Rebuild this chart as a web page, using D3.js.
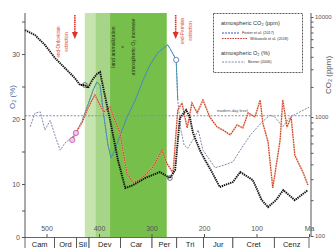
<!DOCTYPE html>
<html lang="en">
  <head>
    <meta charset="UTF-8" />
    <title>CO2 and O2 through the Phanerozoic</title>
    <style>
      body {
        margin: 0;
        background-color: #fff;
      }
      svg {
        font-family: "Liberation Sans", "DejaVu Sans", sans-serif;
      }
      .axis path,
      .axis line {
        stroke: #555;
      }
      .axis text {
        fill: #555;
      }
    </style>
  </head>

  <body>
    <div class="container"></div>

    <script src="https://d3js.org/d3.v7.min.js"></script>
    <script>
      // time axis (Ma) and geological periods
      const maTicks = [500, 400, 300, 200, 100, 0];
      const periodNames = ["Cam", "Ord", "Sil", "Dev", "Car", "Per", "Tri", "Jur", "Cret", "Cenz"];
      const periodBounds = [541, 485, 443, 419, 359, 299, 252, 201, 145, 66, 0];

      // shaded intervals (Ma)
      const greenBands = [[427, 407], [407, 379], [379, 271]];

      // atmospheric CO2, Foster et al. (ppm)
      const fosterMa = [541, 522, 503, 484, 465, 446, 436, 427, 421, 413, 404, 398, 391, 379, 364, 350, 335, 312, 284, 265, 255, 246, 234, 227, 221, 208, 198, 185, 170, 145, 131, 107, 90, 78, 63, 49, 27, 2];
      const fosterCO2 = [7400, 6600, 5250, 3890, 3090, 2450, 2090, 2090, 1950, 2340, 2690, 2820, 1860, 945, 435, 253, 268, 307, 345, 307, 358, 980, 1175, 1000, 735, 527, 435, 345, 258, 284, 345, 295, 200, 175, 200, 243, 200, 243];

      // atmospheric CO2, Witkowski et al. (ppm)
      const witkMa = [451, 444, 432, 421, 408, 398, 391, 379, 370, 360, 347, 335, 316, 297, 280, 271, 259, 250, 242, 232, 223, 213, 202, 189, 175, 164, 150, 137, 126, 116, 103, 93, 88, 78, 69, 55, 50, 42, 34, 27, 11, 2];
      const witkCO2 = [641, 735, 907, 1230, 1660, 1320, 1120, 1260, 945, 735, 339, 279, 313, 380, 527, 410, 339, 1175, 1380, 810, 1380, 1100, 1480, 1000, 825, 777, 707, 857, 810, 1100, 1000, 1480, 890, 617, 253, 641, 1480, 825, 1000, 478, 339, 268];

      // atmospheric O2, Berner (%)
      const bernerMa = [531, 522, 512, 503, 493, 484, 474, 465, 451, 440, 432, 421, 411, 404, 398, 391, 383, 377, 370, 360, 347, 331, 316, 303, 288, 274, 269, 261, 253, 250, 244, 238, 231, 221, 211, 202, 189, 179, 166, 145, 131, 112, 90, 74, 65, 50, 36, 17, 0];
      const bernerO2 = [18.8, 20.9, 21.1, 18.3, 19.8, 17.5, 15.2, 16.3, 17.2, 18.6, 19.8, 22.2, 24.5, 25.7, 25.2, 20.6, 16.0, 14.0, 15.2, 17.5, 20.2, 22.9, 26.0, 28.3, 30.2, 31.1, 31.4, 30.3, 29.1, 22.9, 18.3, 16.0, 15.5, 16.8, 18.3, 15.2, 13.7, 12.5, 12.8, 13.4, 15.2, 17.5, 19.5, 20.6, 20.3, 18.8, 20.3, 21.1, 21.8];

      const modernO2 = 20.5;

      const events = [
        { ma: 446, side: -1, lines: ["end-Ordovician", "extinction"] },
        { ma: 254, side: 1, lines: ["end-Permian", "extinction"] }
      ];

      const w = 334,
        h = 248;

      const svg = d3
        .select(".container")
        .append("svg")
        .attr("width", w)
        .attr("height", h);

      const xScale = d3.scaleLinear().domain([541, 0]).range([25, 309]);
      const yO2 = d3.scaleLinear().domain([0, 10, 20, 30]).range([237, 184, 119, 54]);
      const yCO2 = d3.scaleLog().domain([100, 1000, 10000]).range([236, 117, 17]);

      // green shading
      const bandColors = ["#c6e5ae", "#a7d587", "#77bf4b"];
      svg
        .selectAll(".band")
        .data(greenBands)
        .enter()
        .append("rect")
        .attr("x", d => xScale(d[0]))
        .attr("y", 13)
        .attr("width", d => xScale(d[1]) - xScale(d[0]))
        .attr("height", 224)
        .attr("fill", (d, i) => bandColors[i]);

      // band text
      const bandText = ["land animalization", "+", "atmospheric O₂ increase"];
      svg
        .selectAll(".bandtext")
        .data(bandText)
        .enter()
        .append("text")
        .attr("transform", (d, i) => "translate(" + [113, 122, 133][i] + ",47) rotate(-90)")
        .attr("dy", "0.35em")
        .attr("text-anchor", "middle")
        .attr("font-size", 5.2)
        .attr("fill", "#1d3510")
        .text(d => d);

      // modern-day level
      svg
        .append("line")
        .attr("x1", 25)
        .attr("x2", 311)
        .attr("y1", yO2(modernO2))
        .attr("y2", yO2(modernO2))
        .attr("stroke", "#7d8db3")
        .attr("stroke-width", 1)
        .attr("stroke-dasharray", "2,1.5");

      svg
        .append("text")
        .attr("x", 217)
        .attr("y", yO2(modernO2) - 4)
        .attr("font-size", 4)
        .attr("fill", "#555")
        .text("modern-day level");

      // lines
      const co2Line = d3
        .line()
        .x(d => xScale(d[0]))
        .y(d => yCO2(d[1]));
      const o2Line = d3
        .line()
        .x(d => xScale(d[0]))
        .y(d => yO2(d[1]));

      const berner = bernerMa.map((m, i) => [m, bernerO2[i]]);
      const foster = fosterMa.map((m, i) => [m, fosterCO2[i]]);
      const witk = witkMa.map((m, i) => [m, witkCO2[i]]);

      svg
        .append("path")
        .datum(berner)
        .attr("d", o2Line)
        .attr("fill", "none")
        .attr("stroke", "#8088ad")
        .attr("stroke-width", 1)
        .attr("stroke-dasharray", "2,1.2");

      svg
        .append("path")
        .datum(berner.filter(d => d[0] <= 432 && d[0] >= 250))
        .attr("d", o2Line)
        .attr("fill", "none")
        .attr("stroke", "#3f90b0")
        .attr("stroke-width", 0.9);

      svg
        .append("path")
        .datum(witk)
        .attr("d", co2Line)
        .attr("fill", "none")
        .attr("stroke", "#f3b98e")
        .attr("stroke-width", 1.8)
        .attr("stroke-opacity", 0.6);

      svg
        .append("path")
        .datum(witk)
        .attr("d", co2Line)
        .attr("fill", "none")
        .attr("stroke", "#c93c2c")
        .attr("stroke-width", 1.1)
        .attr("stroke-dasharray", "1.6,0.9");

      svg
        .append("path")
        .datum(foster)
        .attr("d", co2Line)
        .attr("fill", "none")
        .attr("stroke", "#111")
        .attr("stroke-width", 1.9)
        .attr("stroke-dasharray", "1.4,0.8");

      // markers
      svg
        .selectAll(".pink")
        .data(witk.slice(0, 2))
        .enter()
        .append("circle")
        .attr("cx", d => xScale(d[0]))
        .attr("cy", d => yCO2(d[1]))
        .attr("r", 2.6)
        .attr("fill", "#f3c6e8")
        .attr("stroke", "#c050b0")
        .attr("stroke-width", 0.8);

      svg
        .selectAll(".ring")
        .data([foster[7], foster[19]])
        .enter()
        .append("circle")
        .attr("cx", d => xScale(d[0]))
        .attr("cy", d => yCO2(d[1]))
        .attr("r", 2.4)
        .attr("fill", "none")
        .attr("stroke", "#333")
        .attr("stroke-width", 0.7);

      svg
        .append("circle")
        .attr("cx", xScale(253))
        .attr("cy", yO2(29.1))
        .attr("r", 2.6)
        .attr("fill", "#fff")
        .attr("stroke", "#3b6db3")
        .attr("stroke-width", 0.8);

      // extinction arrows
      events.forEach(e => {
        const ex = xScale(e.ma);
        svg
          .append("line")
          .attr("x1", ex)
          .attr("x2", ex)
          .attr("y1", 15)
          .attr("y2", 33)
          .attr("stroke", "#e0302a")
          .attr("stroke-width", 1.6)
          .attr("stroke-dasharray", "1.5,0.7");
        svg
          .append("path")
          .attr("d", "M" + (ex - 3) + ",32L" + (ex + 3) + ",32L" + ex + ",39Z")
          .attr("fill", "#e0302a");
        e.lines.forEach((t, i) => {
          const cx = e.side < 0 ? ex - 16 + i * 8 : ex + 7 + i * 8;
          svg
            .append("text")
            .attr("transform", "translate(" + cx + "," + (e.side < 0 ? 42 : 31) + ") rotate(-90)")
            .attr("dy", "0.35em")
            .attr("text-anchor", "middle")
            .attr("font-size", 4.6)
            .attr("fill", "#d8403a")
            .text(t);
        });
      });

      // legend
      const lg = svg.append("g");
      lg.append("rect")
        .attr("x", 213.5)
        .attr("y", 13.5)
        .attr("width", 89)
        .attr("height", 59)
        .attr("fill", "#fff")
        .attr("stroke", "#333")
        .attr("stroke-width", 0.8)
        .attr("stroke-dasharray", "2,1");
      lg.append("text").attr("x", 221).attr("y", 25).attr("font-size", 5.6).attr("fill", "#333").text("atmospheric CO₂ (ppm)");
      lg.append("text").attr("x", 221).attr("y", 55).attr("font-size", 5.6).attr("fill", "#333").text("atmospheric O₂ (%)");
      const legendRows = [
        { y: 33, x2: 239, color: "#3f56b0", dash: "2,1", label: "Foster et al. (2017)" },
        { y: 38.5, x2: 247, color: "#c93c2c", dash: "1.6,1", label: "Witkowski et al. (2018)" },
        { y: 62, x2: 245, color: "#8088ad", dash: "2,1.2", label: "Berner (2006)" }
      ];
      legendRows.forEach(r => {
        lg.append("line")
          .attr("x1", 222)
          .attr("x2", r.x2)
          .attr("y1", r.y)
          .attr("y2", r.y)
          .attr("stroke", r.color)
          .attr("stroke-width", 1)
          .attr("stroke-dasharray", r.dash);
        lg.append("text")
          .attr("x", r.x2 + 3)
          .attr("y", r.y + 1.3)
          .attr("font-size", 3.8)
          .attr("fill", "#333")
          .text(r.label);
      });

      // axes
      const leftAxis = d3
        .axisLeft(yO2)
        .tickValues([0, 5, 10, 15, 20, 25, 30, 35])
        .tickSize(3)
        .tickPadding(2)
        .tickFormat(d => (d % 10 === 0 ? d : ""));
      svg
        .append("g")
        .attr("class", "axis")
        .attr("transform", "translate(25,0)")
        .call(leftAxis)
        .call(g => g.select(".domain").attr("d", "M0,13V237"))
        .selectAll("text")
        .attr("font-size", 7);

      const co2Ticks = [];
      [100, 1000].forEach(b => d3.range(1, 10).forEach(k => co2Ticks.push(b * k)));
      co2Ticks.push(10000);
      const rightAxis = d3
        .axisRight(yCO2)
        .tickValues(co2Ticks)
        .tickSize(2.5)
        .tickPadding(1.5)
        .tickFormat(d => ([100, 1000, 10000].includes(d) ? d : ""));
      svg
        .append("g")
        .attr("class", "axis")
        .attr("transform", "translate(311,0)")
        .call(rightAxis)
        .call(g => g.select(".domain").attr("d", "M0,13V237"))
        .selectAll("text")
        .attr("font-size", 6);

      const bottomAxis = d3
        .axisTop(xScale)
        .tickValues(maTicks)
        .tickSize(3)
        .tickPadding(3.5)
        .tickFormat(d => (d === 0 ? "Ma" : d));
      svg
        .append("g")
        .attr("class", "axis")
        .attr("transform", "translate(0,237)")
        .call(bottomAxis)
        .call(g => g.select(".domain").remove())
        .selectAll("text")
        .attr("font-size", 7);

      // axis titles
      svg
        .append("text")
        .attr("transform", "translate(12,97) rotate(-90)")
        .attr("dy", "0.35em")
        .attr("text-anchor", "middle")
        .attr("font-size", 8)
        .attr("fill", "#4f6fa0")
        .text("O₂ (%)");

      svg
        .append("text")
        .attr("transform", "translate(328,75) rotate(-90)")
        .attr("dy", "0.35em")
        .attr("text-anchor", "middle")
        .attr("font-size", 8)
        .attr("fill", "#555")
        .text("CO₂ (ppm)");

      // period bar
      const periods = periodNames.map((n, i) => ({ name: n, start: periodBounds[i], end: periodBounds[i + 1] }));
      const pb = svg.append("g");
      pb.selectAll("rect")
        .data(periods)
        .enter()
        .append("rect")
        .attr("x", d => xScale(d.start))
        .attr("y", 237.5)
        .attr("width", d => xScale(d.end) - xScale(d.start))
        .attr("height", 12)
        .attr("fill", "#fff")
        .attr("stroke", "#444")
        .attr("stroke-width", 0.8);
      pb.selectAll("text")
        .data(periods)
        .enter()
        .append("text")
        .attr("x", d => (xScale(d.start) + xScale(d.end)) / 2)
        .attr("y", 246.5)
        .attr("text-anchor", "middle")
        .attr("font-size", 7.5)
        .attr("fill", "#222")
        .text(d => d.name);
    </script>
  </body>
</html>
